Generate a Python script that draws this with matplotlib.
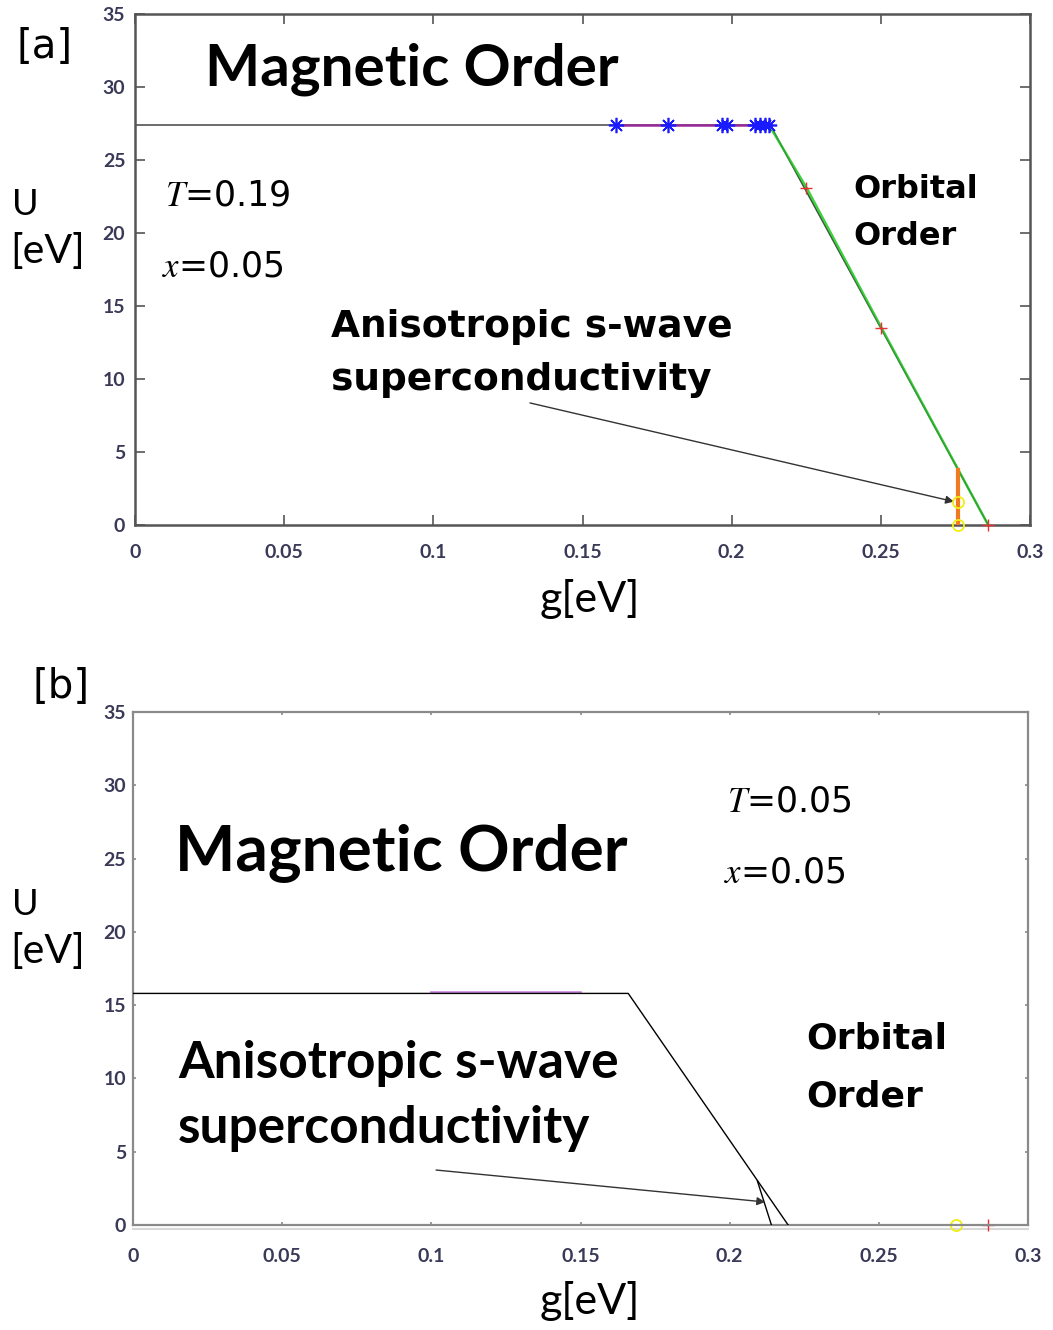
import matplotlib
matplotlib.use("Agg")
import matplotlib.pyplot as plt

plt.rcParams["font.family"] = ["Lato", "DejaVu Sans"]
plt.rcParams["mathtext.fontset"] = "stix"

W, H = 1053, 1330

# ---- panel (a): T = 0.19 ----
a_mag_g = [0.0, 0.2129]
a_mag_U = [27.4, 27.4]
a_stars_g = [0.1612, 0.1787, 0.1968, 0.1985, 0.2078, 0.2095, 0.2112, 0.2125]
a_stars_U = [27.4] * 8
a_purple_g = [0.1612, 0.2125]
a_purple_U = [27.4, 27.4]
a_orb_g = [0.2129, 0.286]          # straight boundary to the orbital phase
a_orb_U = [27.4, 0.0]
a_green_g = [0.2125, 0.2252, 0.2503, 0.286]
a_green_U = [27.4, 23.06, 13.47, 0.0]
a_plus_g = [0.2249, 0.25, 0.286]
a_plus_U = [23.06, 13.47, 0.0]
a_sc_g = [0.2759, 0.2759]
a_sc_U = [0.0, 3.8]
a_circ_g = [0.2759, 0.2759]
a_circ_U = [1.55, 0.0]

# ---- panel (b): T = 0.05 ----
b_mag_g = [0.0, 0.166, 0.2196]
b_mag_U = [15.8, 15.8, 0.0]
b_sc_g = [0.2093, 0.214]
b_sc_U = [3.0, 0.0]
b_purple_g = [0.0999, 0.1498]
b_purple_U = [15.9, 15.9]
b_circ_g = [0.2759]
b_circ_U = [0.0]
b_plus_g = [0.2866]
b_plus_U = [0.0]

xticks = [0, 0.05, 0.1, 0.15, 0.2, 0.25, 0.3]
xticklabels = ["0", "0.05", "0.1", "0.15", "0.2", "0.25", "0.3"]
yticks = [0, 5, 10, 15, 20, 25, 30, 35]

TICK_COLOR = "#3a3a58"
WIDE = ["DejaVu Sans"]

fig = plt.figure(figsize=(W / 100, H / 100), dpi=100)
ax_a = fig.add_axes([135 / W, 1 - 525 / H, 895 / W, 511 / H])
ax_b = fig.add_axes([133 / W, 1 - 1225 / H, 895 / W, 513 / H])


def setup(ax, spine_col, spine_lw, tick_len, xpad, ypad):
    ax.set_xlim(0, 0.3)
    ax.set_ylim(0, 35)
    ax.set_xticks(xticks)
    ax.set_xticklabels(xticklabels)
    ax.set_yticks(yticks)
    for s in ax.spines.values():
        s.set_color(spine_col)
        s.set_linewidth(spine_lw)
    ax.tick_params(direction="in", top=True, right=True, length=tick_len,
                   width=1.2, color=spine_col, labelsize=14,
                   labelcolor=TICK_COLOR)
    ax.tick_params(axis="x", pad=xpad)
    ax.tick_params(axis="y", pad=ypad)
    for lab in ax.get_xticklabels() + ax.get_yticklabels():
        lab.set_fontweight("bold")


setup(ax_a, "#555555", 1.8, 7, 13.5, 7)
setup(ax_b, "#8a8a8a", 1.6, 2.5, 16.5, 5)

# panel (a) boundaries
ax_a.plot(a_mag_g, a_mag_U, color="#444444", lw=1.1, zorder=2)
ax_a.plot(a_purple_g, a_purple_U, color="#9a2a9a", lw=1.8, zorder=3)
ax_a.plot(a_orb_g, a_orb_U, color="#555555", lw=1.2, zorder=2)
ax_a.plot(a_green_g, a_green_U, color="#3fd23f", lw=1.8, zorder=3)
ax_a.plot(a_orb_g, a_orb_U, color="#1d5e1d", lw=0.9, alpha=0.45, zorder=3)
ax_a.plot(a_stars_g, a_stars_U, ls="none", marker=(8, 2, 0), ms=11,
          mew=1.2, color="#1a1aff", zorder=4)
ax_a.plot(a_plus_g, a_plus_U, ls="none", marker="+", ms=8, mew=1.0,
          color="#e83030", zorder=4, clip_on=False)
ax_a.plot(a_sc_g, a_sc_U, color="#f07a20", lw=3, zorder=3)
ax_a.plot(a_circ_g, a_circ_U, ls="none", marker="o", ms=8, mfc="none",
          mew=1.3, color="#f2ee10", zorder=4, clip_on=False)

# panel (b) boundaries
ax_b.plot(b_purple_g, b_purple_U, color="#cf8ee0", lw=2, zorder=2)
ax_b.plot(b_mag_g, b_mag_U, color="black", lw=1.0, zorder=3)
ax_b.plot(b_sc_g, b_sc_U, color="black", lw=1.0, zorder=3)
ax_b.plot(b_circ_g, b_circ_U, ls="none", marker="o", ms=8, mfc="none",
          mew=1.3, color="#f2ee10", zorder=1, clip_on=False)
ax_b.plot(b_plus_g, b_plus_U, ls="none", marker="+", ms=8, mew=1.0,
          color="#e83030", zorder=1, clip_on=False)
ax_b.plot([0, 0.3], [-0.3, -0.3], color="#d8d8d8", lw=1.5,
          clip_on=False, zorder=0)

arrow = dict(arrowstyle="-|>", color="#333333", lw=1.0,
             mutation_scale=12, shrinkA=0, shrinkB=0)
ax_a.annotate("", xy=(0.2745, 1.6), xytext=(0.1324, 8.36), arrowprops=arrow)
ax_b.annotate("", xy=(0.2119, 1.57), xytext=(0.1016, 3.75), arrowprops=arrow)

# region labels, panel (a)
big = dict(fontweight="bold", color="black")
ax_a.text(0.0235, 30.1, "Magnetic Order", fontsize=42, **big)
ax_a.text(0.2407, 22.4, "Orbital", fontsize=23, family=WIDE, **big)
ax_a.text(0.2407, 19.2, "Order", fontsize=23, family=WIDE, **big)
ax_a.text(0.0657, 12.9, "Anisotropic s-wave", fontsize=27, family=WIDE, **big)
ax_a.text(0.0657, 9.25, "superconductivity", fontsize=27, family=WIDE, **big)
ax_a.text(0.010, 21.9, "$T$=0.19", fontsize=25, family=WIDE)
ax_a.text(0.009, 17.0, "$x$=0.05", fontsize=25, family=WIDE)

# region labels, panel (b)
ax_b.text(0.0141, 24.2, "Magnetic Order", fontsize=46, **big)
ax_b.text(0.2256, 12.07, "Orbital", fontsize=26, family=WIDE, **big)
ax_b.text(0.2256, 8.07, "Order", fontsize=26, family=WIDE, **big)
ax_b.text(0.0151, 10.0, "Anisotropic s-wave", fontsize=37, **big)
ax_b.text(0.0151, 5.6, "superconductivity", fontsize=37, **big)
ax_b.text(0.199, 28.2, "$T$=0.05", fontsize=25, family=WIDE)
ax_b.text(0.198, 23.4, "$x$=0.05", fontsize=25, family=WIDE)


def ftext(x, y, s, **kw):
    fig.text(x / W, 1 - y / H, s, va="baseline", **kw)


ftext(17, 58, "[a]", fontsize=29, family=WIDE)
ftext(32, 698, "[b]", fontsize=29, family=WIDE)
for y0 in (0, 700):
    ftext(12, 215 + y0, "U", fontsize=26)
    ftext(10, 263 + y0, "[eV]", fontsize=29.5)
ftext(540, 612, "g[eV]", fontsize=31)
ftext(540, 1314, "g[eV]", fontsize=31)

fig.savefig("out.png", dpi=100, facecolor="white")
